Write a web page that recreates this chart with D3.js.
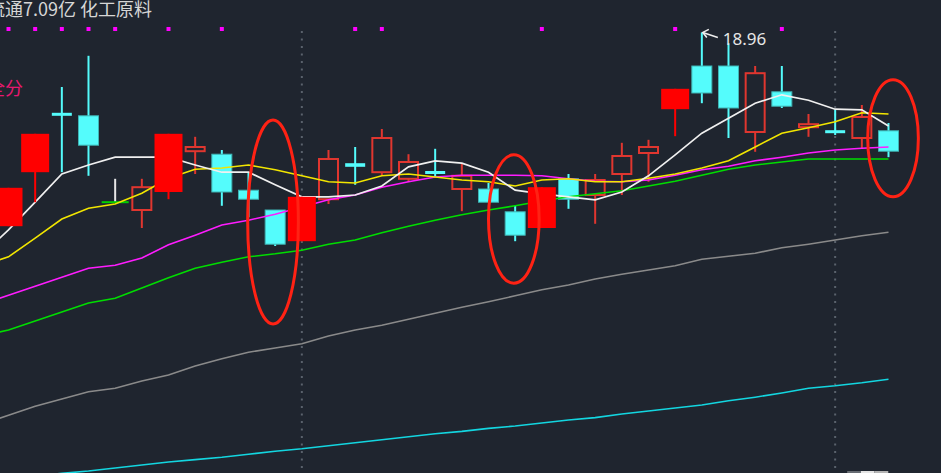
<!DOCTYPE html>
<html><head><meta charset="utf-8">
<script src="https://cdn.jsdelivr.net/npm/d3@7"></script>
<style>
html,body{margin:0;padding:0;background:#1f252f;overflow:hidden;}
svg{display:block;}
</style></head>
<body>
<svg id="c" width="941" height="473"></svg>
<script>
// ---- data (prices) ----
const titleText = "流通7.09亿 化工原料";
const sideText = "全分";
const highLabel = "18.96";
const openP  = [15.73,16.63,17.62,17.57,16.13,16.00,16.30,16.98,16.93,16.33,16.00,15.48,16.18,16.78,16.63,16.52,16.65,16.35,16.35,15.97,15.70,16.52,16.25,16.60,16.95,17.68,18.40,18.40,17.30,17.97,17.38,17.33,17.20,17.32];
const highP  = [16.37,17.27,18.05,18.57,16.52,16.52,17.27,17.22,17.00,16.62,16.00,16.22,17.00,17.05,17.35,16.93,17.02,16.77,16.45,16.07,16.38,16.60,16.60,17.12,17.17,18.02,18.96,18.78,18.40,18.40,17.60,17.68,17.75,17.45];
const lowP   = [15.73,16.13,16.63,16.57,16.13,15.70,16.18,16.60,16.07,15.88,15.40,15.48,16.10,16.42,16.58,16.47,16.55,15.98,16.13,15.48,15.70,16.02,15.77,16.25,16.47,17.23,17.78,17.20,16.97,17.70,17.22,17.25,17.03,16.88];
const closeP = [16.37,17.27,17.57,17.08,16.13,16.38,17.27,17.05,16.30,16.18,15.43,16.22,16.85,16.72,17.20,16.80,16.60,16.57,16.13,15.58,16.38,16.18,16.50,16.90,17.05,18.02,17.95,17.70,18.28,17.73,17.43,17.30,17.55,16.98];
const signalBars = [0,1,6,11,20,25];              // wide solid red bars
const dotMarks = [0,1,2,3,4,6,8,13,14,20,25,29];  // magenta marks on top row
const dividers = [11,31];                          // dotted vertical separators
// moving averages: first value belongs to the bar just left of the visible window (index -1)
const ma5  = [15.25,15.67,16.13,16.60,16.75,16.88,16.88,16.88,16.75,16.63,16.63,16.42,16.22,16.22,16.25,16.40,16.72,16.82,16.78,16.63,16.33,16.27,16.22,16.17,16.30,16.57,16.92,17.28,17.53,17.78,17.92,17.83,17.68,17.67,17.40];
const ma10 = [15.07,15.22,15.53,15.85,16.03,16.10,16.28,16.53,16.68,16.70,16.75,16.67,16.57,16.47,16.45,16.57,16.60,16.55,16.50,16.47,16.40,16.50,16.52,16.47,16.47,16.53,16.60,16.70,16.82,17.05,17.28,17.37,17.47,17.62,17.60];
const ma20 = [14.43,14.58,14.73,14.88,15.03,15.08,15.20,15.42,15.58,15.75,15.83,15.93,16.05,16.17,16.25,16.38,16.47,16.55,16.58,16.58,16.58,16.57,16.52,16.48,16.47,16.50,16.58,16.67,16.73,16.82,16.88,16.95,17.00,17.03,17.05];
const ma30 = [13.90,14.00,14.15,14.30,14.45,14.53,14.70,14.87,15.03,15.13,15.22,15.27,15.33,15.43,15.50,15.62,15.73,15.83,15.92,16.00,16.07,16.15,16.22,16.27,16.32,16.40,16.48,16.58,16.68,16.75,16.80,16.85,16.85,16.85,16.85];
const ma60 = [12.43,12.58,12.73,12.85,12.97,13.03,13.15,13.25,13.40,13.52,13.63,13.70,13.77,13.90,14.00,14.08,14.18,14.28,14.38,14.47,14.57,14.67,14.75,14.85,14.93,15.00,15.07,15.18,15.23,15.28,15.37,15.43,15.50,15.57,15.63];
const ma250= [11.47,11.52,11.57,11.61,11.65,11.70,11.75,11.80,11.84,11.88,11.93,11.98,12.02,12.07,12.12,12.17,12.22,12.27,12.31,12.36,12.40,12.45,12.50,12.54,12.60,12.65,12.70,12.75,12.82,12.88,12.95,13.03,13.07,13.12,13.18];
// annotation ellipses: centre index, top price, bottom price
const ringIdx = [9.92, 18.95, 33.17];
const ringTop = [17.50, 16.92, 18.17];
const ringBot = [14.10, 14.78, 16.22];

// ---- drawing ----
const W = 941, H = 473;
const svg = d3.select("#c");
const x = d3.scaleLinear().domain([0, 33]).range([8.5, 888.5]);
const y = d3.scaleLinear().domain([19.5, 11.5]).range([0, 480]);
const step = x(1) - x(0);
const n = openP.length;
const idx = d3.range(n);

svg.append("rect").attr("width", W).attr("height", H).attr("fill", "#1f252f");

// dotted dividers
svg.selectAll("line.div").data(dividers).join("line")
  .attr("x1", d => x(d)).attr("x2", d => x(d))
  .attr("y1", 31).attr("y2", 470)
  .attr("stroke", "#5a626c").attr("stroke-width", 2)
  .attr("stroke-dasharray", "2,5.5");

// top text
svg.append("text").attr("x", -13).attr("y", 16)
  .attr("font-family", "Noto Sans CJK SC, Noto Sans, sans-serif")
  .attr("font-size", 18).attr("fill", "#d6d6d6").text(titleText);
svg.append("text").attr("x", -13).attr("y", 95)
  .attr("font-family", "Noto Sans CJK SC, Noto Sans, sans-serif")
  .attr("font-size", 18).attr("fill", "#e8186f").text(sideText);

// magenta marks
svg.selectAll("rect.dot").data(dotMarks).join("rect")
  .attr("x", d => x(d) - 2).attr("y", 27).attr("width", 4).attr("height", 4)
  .attr("fill", "#ff00ff");

const isSignal = i => signalBars.includes(i);
const normal = idx.filter(i => !isSignal(i));
const bodyW = 19;
const gC = svg.append("g");

normal.forEach(i => {
  const o = openP[i], c = closeP[i], h = highP[i], l = lowP[i];
  const cx = x(i);
  const top = y(Math.max(o, c)), bot = y(Math.min(o, c));
  if (o === c) {
    gC.append("line").attr("x1", cx).attr("x2", cx).attr("y1", y(h)).attr("y2", y(l))
      .attr("stroke", "#e6e6e6").attr("stroke-width", 2);
    gC.append("line").attr("x1", cx - 13.5).attr("x2", cx + 13.5).attr("y1", top).attr("y2", top)
      .attr("stroke", "#00d000").attr("stroke-width", 2);
    return;
  }
  if (c > o) {
    const col = "#e0362f";
    gC.append("line").attr("x1", cx).attr("x2", cx).attr("y1", y(h)).attr("y2", top)
      .attr("stroke", col).attr("stroke-width", 2);
    gC.append("line").attr("x1", cx).attr("x2", cx).attr("y1", bot).attr("y2", y(l))
      .attr("stroke", col).attr("stroke-width", 2);
    gC.append("rect").attr("x", cx - bodyW / 2).attr("y", top)
      .attr("width", bodyW).attr("height", Math.max(bot - top, 1))
      .attr("fill", "none").attr("stroke", col).attr("stroke-width", 2);
  } else {
    const col = "#54fcfc";
    gC.append("line").attr("x1", cx).attr("x2", cx).attr("y1", y(h)).attr("y2", y(l))
      .attr("stroke", col).attr("stroke-width", 2);
    const hgt = bot - top;
    gC.append("rect").attr("x", cx - bodyW / 2 - 0.5).attr("y", top)
      .attr("width", bodyW + 1).attr("height", Math.max(hgt, 3))
      .attr("fill", col).attr("stroke", hgt > 5 ? "#3fb4b4" : "none").attr("stroke-width", 1);
  }
});

// moving averages (index offset -1 for the leading value)
const line = d3.line().x((d, i) => x(i - 1)).y(d => y(d));
const maSeries = [
  {v: ma250, c: "#13d6e0", w: 1.6},
  {v: ma60,  c: "#8a8a8a", w: 1.6},
  {v: ma30,  c: "#00dd00", w: 1.6},
  {v: ma20,  c: "#ff1cff", w: 1.6},
  {v: ma10,  c: "#f2e600", w: 1.6},
  {v: ma5,   c: "#f0f0f0", w: 1.7}
];
svg.selectAll("path.ma").data(maSeries).join("path")
  .attr("d", d => line(d.v)).attr("fill", "none")
  .attr("stroke", d => d.c).attr("stroke-width", d => d.w);

// wide signal bars on top
signalBars.forEach(i => {
  const o = openP[i], c = closeP[i], h = highP[i], l = lowP[i];
  const cx = x(i);
  const top = y(Math.max(o, c)), bot = y(Math.min(o, c));
  svg.append("line").attr("x1", cx).attr("x2", cx).attr("y1", y(h)).attr("y2", y(l))
    .attr("stroke", "#ff0000").attr("stroke-width", 2);
  svg.append("rect").attr("x", cx - 14).attr("y", top).attr("width", 28).attr("height", bot - top)
    .attr("fill", "#ff0000");
});

// high label
const hiIdx = highP.indexOf(d3.max(highP));
const hx = x(hiIdx), hy = y(highP[hiIdx]);
svg.append("line").attr("x1", hx + 16).attr("y1", hy + 5).attr("x2", hx + 1).attr("y2", hy)
  .attr("stroke", "#eeeeee").attr("stroke-width", 1.6);
svg.append("path")
  .attr("d", `M${hx + 7},${hy - 3} L${hx + 1},${hy} L${hx + 5},${hy + 5}`)
  .attr("fill", "none").attr("stroke", "#eeeeee").attr("stroke-width", 1.6);
svg.append("text").attr("x", hx + 21).attr("y", hy + 13)
  .attr("font-family", "Noto Sans, sans-serif").attr("font-size", 17)
  .attr("fill", "#e6e6e6").text(highLabel);

// annotation rings
svg.selectAll("ellipse.ring").data(ringIdx).join("ellipse")
  .attr("cx", d => x(d)).attr("cy", (d, i) => (y(ringTop[i]) + y(ringBot[i])) / 2)
  .attr("rx", step * 0.95).attr("ry", (d, i) => (y(ringBot[i]) - y(ringTop[i])) / 2)
  .attr("fill", "none").attr("stroke", "#ff2214").attr("stroke-width", 3);

// bottom-right stub of lower panel
const stub = [["#666b72", 0], ["#e4e4e4", 1], ["#b4b4b4", 2]];
svg.selectAll("rect.stub").data(stub).join("rect")
  .attr("x", d => x(31.45) + d[1] * 13.7).attr("y", 471).attr("width", 13.7).attr("height", 2)
  .attr("fill", d => d[0]);
</script>
</body></html>
